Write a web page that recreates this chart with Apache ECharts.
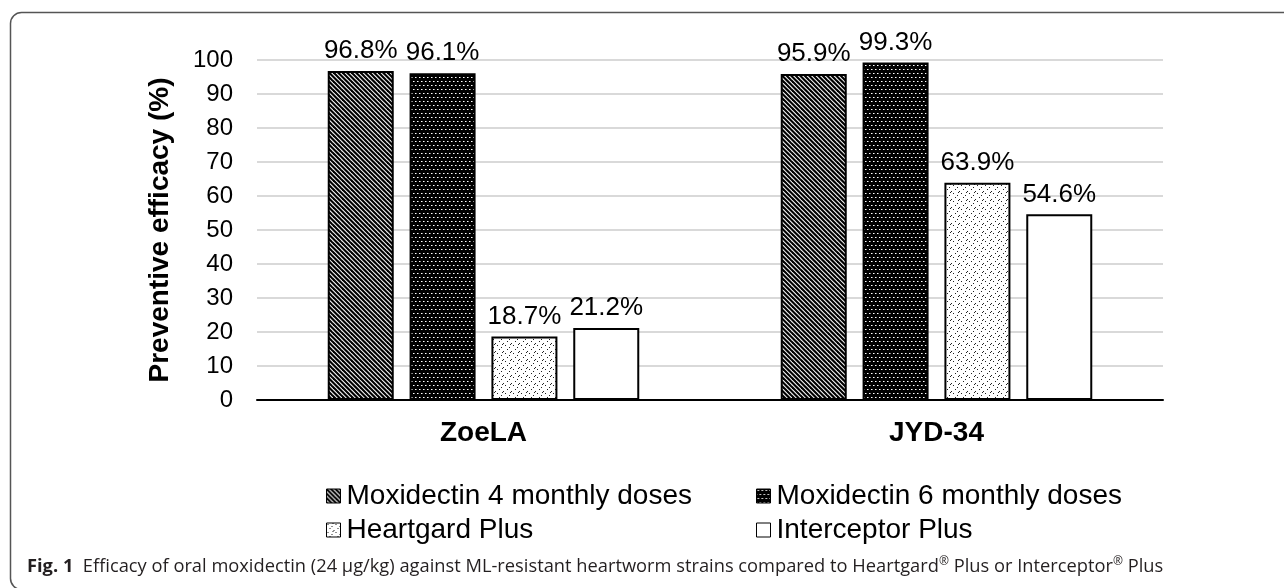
<!DOCTYPE html>
<html>
<head>
<meta charset="utf-8">
<script src="https://cdn.jsdelivr.net/npm/echarts@6/dist/echarts.min.js"></script>
<style>
html,body{margin:0;padding:0;background:#fff;}
#chart{width:1284px;height:588px;}
</style>
</head>
<body>
<div id="chart"></div>
<script>
const categories = ['ZoeLA', 'JYD-34'];
const seriesNames = ['Moxidectin 4 monthly doses', 'Moxidectin 6 monthly doses', 'Heartgard Plus', 'Interceptor Plus'];
const moxi4 = [96.8, 95.9];
const moxi6 = [96.1, 99.3];
const heartgard = [18.7, 63.9];
const interceptor = [21.2, 54.6];
const yTicks = [0, 10, 20, 30, 40, 50, 60, 70, 80, 90, 100];

function makeTile(w, h, draw) {
  const c = document.createElement('canvas');
  c.width = w; c.height = h;
  const ctx = c.getContext('2d');
  draw(ctx, w, h);
  return c;
}
const stripes = makeTile(9, 9, (ctx, w, h) => {
  ctx.fillStyle = '#fff'; ctx.fillRect(0, 0, w, h);
  ctx.strokeStyle = '#000'; ctx.lineWidth = 2.2;
  for (let k = -2; k <= 2; k++) {
    const o = k * 4.5;
    ctx.beginPath(); ctx.moveTo(o - 1, -1); ctx.lineTo(o + w + 1, h + 1); ctx.stroke();
  }
});
const darkDots = makeTile(8, 8, (ctx, w, h) => {
  ctx.fillStyle = '#000'; ctx.fillRect(0, 0, w, h);
  ctx.fillStyle = '#fff';
  [[1,1],[5,1],[3,5],[7,5]].forEach(p => ctx.fillRect(p[0], p[1], 1, 1));
  ctx.fillStyle = '#888';
  [[2,1],[6,1],[4,5],[0,5]].forEach(p => ctx.fillRect(p[0], p[1], 1, 1));
});
const lightDots = makeTile(8, 8, (ctx, w, h) => {
  ctx.fillStyle = '#fff'; ctx.fillRect(0, 0, w, h);
  ctx.fillStyle = '#222';
  [[1,1],[5,3],[3,5],[7,7],[6,0]].forEach(p => ctx.fillRect(p[0], p[1], 1, 1));
});
const fills = [
  {image: stripes, repeat: 'repeat'},
  {image: darkDots, repeat: 'repeat'},
  {image: lightDots, repeat: 'repeat'},
  '#ffffff'
];
const dataSets = [moxi4, moxi6, heartgard, interceptor];

const chart = echarts.init(document.getElementById('chart'), null, {renderer: 'canvas'});

const FONT = 'Liberation Sans, Arial, sans-serif';
const legendPos = [[321, 477], [751, 477], [321, 511], [751, 511]];

const option = {
  backgroundColor: '#fff',
  animation: false,
  grid: {left: 257, right: 121, top: 60, bottom: 188, containLabel: false},
  xAxis: {
    type: 'category',
    data: categories,
    axisLine: {lineStyle: {color: '#000', width: 2}},
    axisTick: {show: false},
    axisLabel: {color: '#000', fontSize: 28, fontWeight: 'bold', fontFamily: FONT, margin: 19}
  },
  yAxis: {
    type: 'value',
    min: yTicks[0], max: yTicks[yTicks.length - 1], interval: 10,
    name: 'Preventive efficacy (%)',
    nameLocation: 'middle',
    nameGap: 83,
    nameTextStyle: {color: '#000', fontSize: 28, fontWeight: 'bold', fontFamily: FONT},
    axisLine: {show: false},
    axisTick: {show: false},
    axisLabel: {color: '#000', fontSize: 24, fontFamily: FONT, margin: 24},
    splitLine: {lineStyle: {color: '#d9d9d9', width: 2}}
  },
  legend: seriesNames.map((n, i) => ({
    data: [n],
    left: legendPos[i][0], top: legendPos[i][1],
    itemWidth: 14, itemHeight: 14, itemGap: 0,
    icon: 'rect',
    textStyle: {color: '#000', fontSize: 28, fontFamily: FONT, padding: [0,0,0,1]},
    itemStyle: {borderColor: '#000', borderWidth: 1}
  })),
  series: dataSets.map((d, i) => ({
    name: seriesNames[i],
    type: 'bar',
    data: d,
    barWidth: 66,
    barGap: '24%',
    itemStyle: {color: fills[i], borderColor: '#000', borderWidth: 2},
    label: {
      show: true, position: 'top', distance: 7,
      color: '#000', fontSize: 26, fontFamily: FONT,
      formatter: p => p.value.toFixed(1) + '%'
    }
  })),
  graphic: [
    {
      type: 'rect', silent: true, z: -1,
      shape: {x: 10.5, y: 12.5, width: 1320, height: 577, r: 11},
      style: {fill: null, stroke: '#555', lineWidth: 1.5}
    },
    {
      type: 'text', left: 27, top: 556,
      style: {
        text: '{b|Fig. 1}  Efficacy of oral moxidectin (24 µg/kg) against ML-resistant heartworm strains compared to Heartgard{s|®} Plus or Interceptor{s|®} Plus',
        fill: '#231f20',
        font: '18.3px "Open Sans", sans-serif',
        rich: {
          b: {fontWeight: 'bold', fontSize: 18.3, fontFamily: 'Open Sans, sans-serif', fill: '#231f20'},
          s: {fontSize: 12, fontFamily: 'Open Sans, sans-serif', verticalAlign: 'top', padding: [0,0,9,0], fill: '#231f20'}
        }
      }
    }
  ]
};
chart.setOption(option);
</script>
</body>
</html>
